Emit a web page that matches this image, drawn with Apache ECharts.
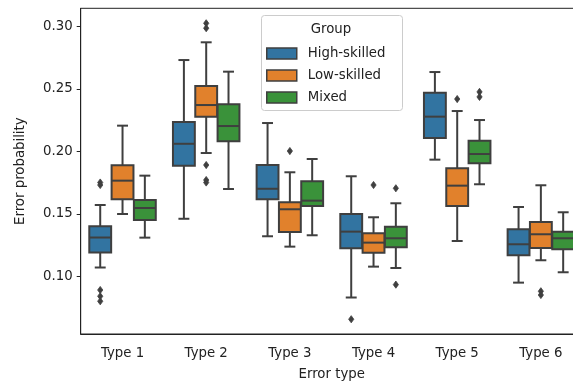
<!DOCTYPE html>
<html>
<head>
<meta charset="utf-8">
<script src="https://cdn.jsdelivr.net/npm/echarts@6/dist/echarts.min.js"></script>
<style>html,body{margin:0;padding:0;background:#fff;}#c{width:573px;height:383px;}</style>
</head>
<body>
<div id="c"></div>
<script>
// ---- data ----
const categories = ['Type 1', 'Type 2', 'Type 3', 'Type 4', 'Type 5', 'Type 6'];
const groups = ['High-skilled', 'Low-skilled', 'Mixed'];
const yTicks = [0.10, 0.15, 0.20, 0.25, 0.30];
// [min, q1, median, q3, max] per category
const highSkilled = [
  [0.107, 0.119, 0.131, 0.140, 0.157],
  [0.146, 0.1885, 0.206, 0.2234, 0.273],
  [0.132, 0.1616, 0.170, 0.189, 0.2226],
  [0.083, 0.1224, 0.1357, 0.1498, 0.180],
  [0.1933, 0.2106, 0.2277, 0.2469, 0.2634],
  [0.0949, 0.1168, 0.1256, 0.1376, 0.1554]
];
const lowSkilled = [
  [0.1498, 0.1616, 0.1765, 0.1888, 0.2205],
  [0.1986, 0.2277, 0.237, 0.2522, 0.2872],
  [0.1237, 0.1354, 0.1536, 0.1592, 0.1832],
  [0.1077, 0.1189, 0.1269, 0.1344, 0.1472],
  [0.1282, 0.1562, 0.1725, 0.1864, 0.2322],
  [0.1128, 0.1226, 0.1336, 0.1434, 0.1728]
];
const mixed = [
  [0.1309, 0.145, 0.1546, 0.161, 0.1805],
  [0.1698, 0.208, 0.2202, 0.2376, 0.2637],
  [0.1328, 0.1562, 0.1605, 0.176, 0.1938],
  [0.1066, 0.1232, 0.1304, 0.1397, 0.1584],
  [0.1736, 0.1904, 0.1978, 0.2085, 0.225],
  [0.1032, 0.1216, 0.1304, 0.1357, 0.1512]
];
// outliers: [categoryIndex, value]
const highOutliers = [[0, 0.175], [0, 0.173], [0, 0.089], [0, 0.084], [0, 0.080], [3, 0.0656]];
const lowOutliers = [[1, 0.3024], [1, 0.2985], [1, 0.189], [1, 0.177], [1, 0.175], [2, 0.2002], [3, 0.173], [4, 0.2418], [5, 0.088], [5, 0.085]];
const mixedOutliers = [[3, 0.1704], [3, 0.0933], [4, 0.2475], [4, 0.2435]];

// ---- style ----
const colors = ['#3274a1', '#e1812c', '#3a923a'];
const gray = '#3f3f3f';
const FONT = 'DejaVu Sans';
const FS = 13.3;
const textColor = '#222';

function makeBoxRender(g) {
  return function (params, api) {
    const cat = api.value(0);
    const band = api.size([1, 0])[0];
    const slot = band * 0.8 / 3;
    const off = (g - 1) * slot;
    const hw = slot * 0.98 / 2;
    const cw = hw / 2;
    const pMin = api.coord([cat, api.value(1)]);
    const pQ1 = api.coord([cat, api.value(2)]);
    const pMed = api.coord([cat, api.value(3)]);
    const pQ3 = api.coord([cat, api.value(4)]);
    const pMax = api.coord([cat, api.value(5)]);
    const x = pMed[0] + off;
    const ls = { stroke: gray, lineWidth: 2 };
    return {
      type: 'group',
      children: [
        { type: 'line', shape: { x1: x, y1: pMin[1], x2: x, y2: pQ1[1] }, style: ls },
        { type: 'line', shape: { x1: x, y1: pQ3[1], x2: x, y2: pMax[1] }, style: ls },
        { type: 'line', shape: { x1: x - cw, y1: pMin[1], x2: x + cw, y2: pMin[1] }, style: ls },
        { type: 'line', shape: { x1: x - cw, y1: pMax[1], x2: x + cw, y2: pMax[1] }, style: ls },
        { type: 'rect', shape: { x: x - hw, y: pQ3[1], width: 2 * hw, height: pQ1[1] - pQ3[1] },
          style: { fill: colors[g], stroke: gray, lineWidth: 2 } },
        { type: 'line', shape: { x1: x - hw, y1: pMed[1], x2: x + hw, y2: pMed[1] }, style: ls }
      ]
    };
  };
}

function renderOutlier(params, api) {
  const cat = api.value(0);
  const g = api.value(1);
  const band = api.size([1, 0])[0];
  const slot = band * 0.8 / 3;
  const p = api.coord([cat, api.value(2)]);
  const x = p[0] + (g - 1) * slot;
  const y = p[1];
  return {
    type: 'polygon',
    shape: { points: [[x, y - 3.6], [x + 2.6, y], [x, y + 3.6], [x - 2.6, y]] },
    style: { fill: gray, stroke: gray, lineWidth: 0.8 }
  };
}

const groupData = [highSkilled, lowSkilled, mixed];
const outlierData = [];
[highOutliers, lowOutliers, mixedOutliers].forEach(function (arr, g) {
  arr.forEach(function (o) { outlierData.push([o[0], g, o[1]]); });
});

const series = groupData.map(function (arr, g) {
  return {
    name: groups[g],
    type: 'custom',
    renderItem: makeBoxRender(g),
    itemStyle: { color: colors[g], borderColor: gray, borderWidth: 1.5 },
    encode: { x: 0, y: [1, 2, 3, 4, 5] },
    data: arr.map(function (v, i) { return [i].concat(v); }),
    z: 2
  };
});
series.push({
  name: 'outliers',
  type: 'custom',
  renderItem: renderOutlier,
  itemStyle: { color: gray },
  encode: { x: 0, y: 2 },
  data: outlierData,
  z: 2
});

const chart = echarts.init(document.getElementById('c'), null, { renderer: 'canvas' });
chart.setOption({
  animation: false,
  backgroundColor: '#fff',
  textStyle: { fontFamily: FONT },
  grid: { left: 80.7, top: 8.3, width: 502, height: 325.7, outerBoundsMode: 'none', containLabel: false,
    show: true, borderColor: '#222', borderWidth: 1, backgroundColor: 'transparent' },
  xAxis: {
    type: 'category',
    data: categories,
    name: 'Error type',
    nameLocation: 'middle',
    nameGap: 34,
    nameTextStyle: { fontFamily: FONT, fontSize: FS, color: textColor },
    axisLine: { lineStyle: { color: '#222', width: 1 } },
    axisTick: { alignWithLabel: true, length: 4, lineStyle: { color: '#222' } },
    axisLabel: { fontFamily: FONT, fontSize: FS, color: textColor, margin: 13 },
    splitLine: { show: false }
  },
  yAxis: {
    type: 'value',
    min: 0.0538,
    max: 0.3144,
    name: 'Error probability',
    nameLocation: 'middle',
    nameGap: 54,
    nameRotate: 90,
    nameTextStyle: { fontFamily: FONT, fontSize: FS, color: textColor },
    axisLine: { show: true, lineStyle: { color: '#222', width: 1 } },
    axisTick: { show: true, length: 4, customValues: yTicks, lineStyle: { color: '#222' } },
    axisLabel: { fontFamily: FONT, fontSize: FS, color: textColor, margin: 8, customValues: yTicks,
      formatter: function (v) { return v.toFixed(2); } },
    splitLine: { show: false }
  },
  legend: {
    data: groups,
    orient: 'vertical',
    left: 261,
    top: 41,
    itemWidth: 30,
    itemHeight: 11,
    itemGap: 7,
    icon: 'rect',
    itemStyle: { borderColor: gray, borderWidth: 1.5 },
    textStyle: { fontFamily: FONT, fontSize: FS, color: textColor, lineHeight: 15, padding: [0, 0, 0, 6] },
    selectedMode: false,
    z: 5
  },
  graphic: {
    elements: [
      { type: 'rect', z: 3, shape: { x: 261.5, y: 15.5, width: 141, height: 95, r: 3 },
        style: { fill: 'rgba(255,255,255,0.8)', stroke: '#cccccc', lineWidth: 1 } },
      { type: 'text', z: 4, x: 331, y: 30,
        style: { text: 'Group', fontFamily: FONT, fontSize: FS, fill: textColor, textAlign: 'center', textVerticalAlign: 'middle' } }
    ]
  },
  series: series
});
</script>
</body>
</html>
